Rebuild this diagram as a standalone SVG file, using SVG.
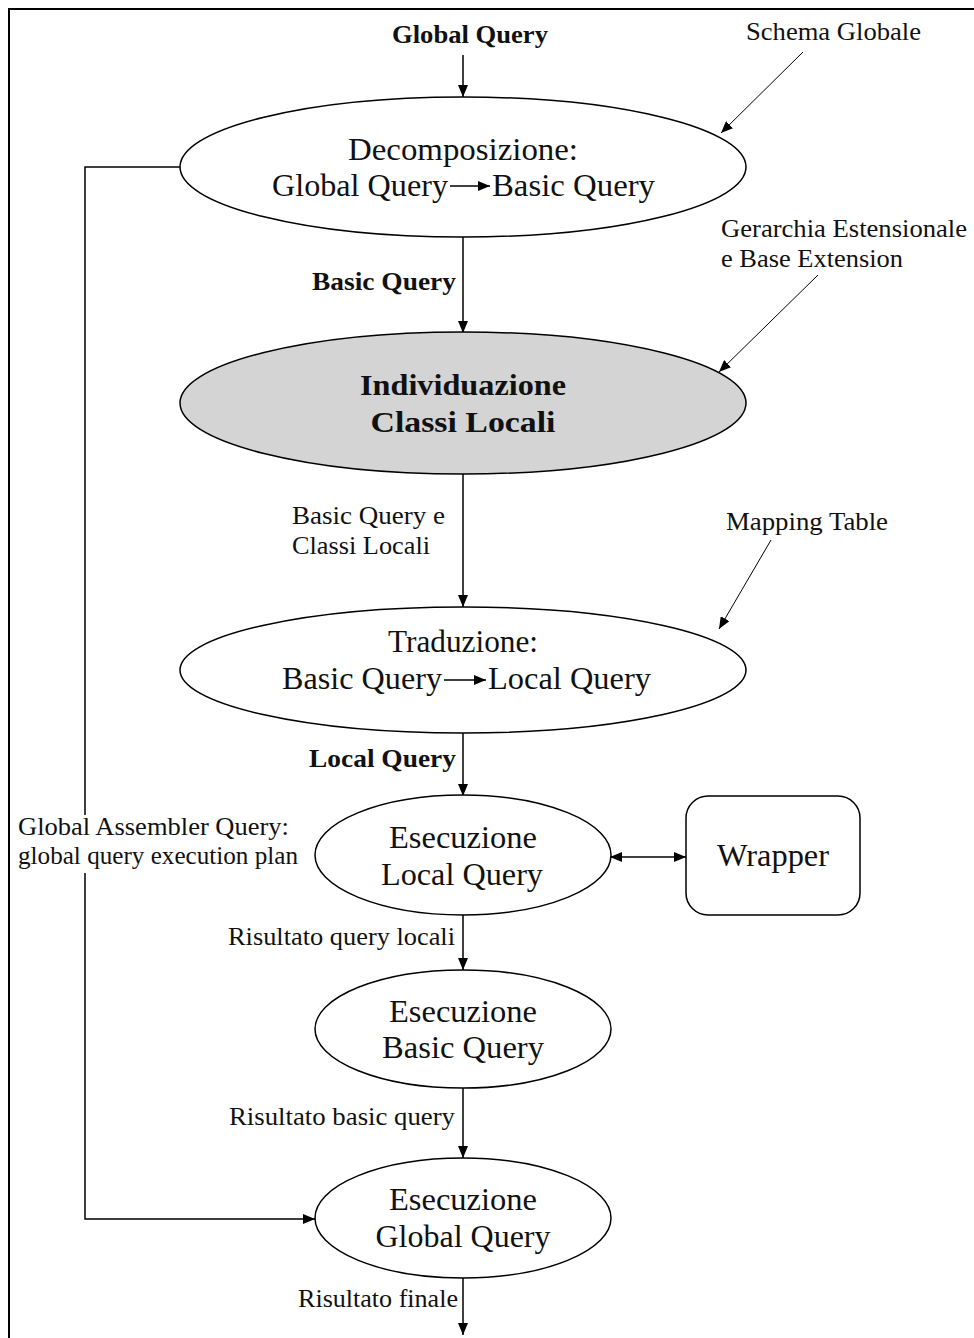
<svg xmlns="http://www.w3.org/2000/svg" width="974" height="1338" viewBox="0 0 974 1338">
<defs>
<marker id="ah" viewBox="0 0 12 10" refX="12" refY="5" markerWidth="12" markerHeight="10" markerUnits="userSpaceOnUse" orient="auto-start-reverse">
<path d="M0,0 L12,5 L0,10 z" fill="#000"/>
</marker>
</defs>
<style>
.n{fill:#fff;stroke:#000;stroke-width:1.5}
.g{fill:#d4d4d4;stroke:#000;stroke-width:1.5}
.t{font-family:"Liberation Serif","Times New Roman",serif;font-size:31px;fill:#111;text-anchor:middle}
.tb{font-family:"Liberation Serif","Times New Roman",serif;font-size:29px;font-weight:bold;fill:#111;text-anchor:middle}
.l{font-family:"Liberation Serif","Times New Roman",serif;font-size:26px;fill:#111}
.lb{font-family:"Liberation Serif","Times New Roman",serif;font-size:25px;font-weight:bold;fill:#111}
.c{fill:none;stroke:#000;stroke-width:1.5}
.s{fill:none;stroke:#000;stroke-width:1}
</style>
<rect x="0" y="0" width="974" height="1338" fill="#fff"/>
<path d="M9,1338 V9 H974" fill="none" stroke="#000" stroke-width="2"/>

<g id="connectors">
<line class="c" x1="463" y1="55" x2="463" y2="97" marker-end="url(#ah)"/>
<line class="s" x1="803" y1="52" x2="721" y2="133" marker-end="url(#ah)"/>
<line class="c" x1="463" y1="237" x2="463" y2="333" marker-end="url(#ah)"/>
<line class="s" x1="818" y1="275" x2="719" y2="372" marker-end="url(#ah)"/>
<line class="c" x1="463" y1="474" x2="463" y2="607" marker-end="url(#ah)"/>
<line class="s" x1="771" y1="540" x2="719" y2="629" marker-end="url(#ah)"/>
<line class="c" x1="463" y1="732" x2="463" y2="796" marker-end="url(#ah)"/>
<line class="c" x1="610" y1="857" x2="686" y2="857" marker-start="url(#ah)" marker-end="url(#ah)"/>
<line class="c" x1="463" y1="915" x2="463" y2="970" marker-end="url(#ah)"/>
<line class="c" x1="463" y1="1088" x2="463" y2="1158" marker-end="url(#ah)"/>
<line class="c" x1="463" y1="1277" x2="463" y2="1335" marker-end="url(#ah)"/>
<path class="c" d="M180,167 H85 V1219 H315" marker-end="url(#ah)"/>
</g>

<g id="labels">
<text class="lb" x="392" y="43" textLength="156" lengthAdjust="spacingAndGlyphs">Global Query</text>
<text class="l" x="746" y="40" textLength="175" lengthAdjust="spacingAndGlyphs">Schema Globale</text>
<text class="lb" x="312" y="290" textLength="144" lengthAdjust="spacingAndGlyphs">Basic Query</text>
<text class="l" x="721" y="237" textLength="246" lengthAdjust="spacingAndGlyphs">Gerarchia Estensionale</text>
<text class="l" x="721" y="267" textLength="182" lengthAdjust="spacingAndGlyphs">e Base Extension</text>
<text class="l" x="292" y="524" textLength="153" lengthAdjust="spacingAndGlyphs">Basic Query e</text>
<text class="l" x="292" y="554" textLength="138" lengthAdjust="spacingAndGlyphs">Classi Locali</text>
<text class="l" x="726" y="530" textLength="162" lengthAdjust="spacingAndGlyphs">Mapping Table</text>
<text class="lb" x="309" y="767" textLength="147" lengthAdjust="spacingAndGlyphs">Local Query</text>
<rect x="14" y="815" width="288" height="58" fill="#fff"/>
<text class="l" x="18" y="835" textLength="271" lengthAdjust="spacingAndGlyphs">Global Assembler Query:</text>
<text class="l" x="18" y="864" textLength="280" lengthAdjust="spacingAndGlyphs">global query execution plan</text>
<text class="l" x="228" y="945" textLength="227" lengthAdjust="spacingAndGlyphs">Risultato query locali</text>
<text class="l" x="229" y="1125" textLength="226" lengthAdjust="spacingAndGlyphs">Risultato basic query</text>
<text class="l" x="298" y="1307" textLength="160" lengthAdjust="spacingAndGlyphs">Risultato finale</text>
</g>

<g id="decomposizione">
<ellipse class="n" cx="463" cy="167" rx="283" ry="70"/>
<text class="t" x="463" y="160" textLength="230" lengthAdjust="spacingAndGlyphs">Decomposizione:</text>
<text class="t" x="272" y="196" style="text-anchor:start" textLength="176" lengthAdjust="spacingAndGlyphs">Global Query</text>
<line class="c" x1="450" y1="186" x2="490" y2="186" marker-end="url(#ah)"/>
<text class="t" x="492" y="196" style="text-anchor:start" textLength="163" lengthAdjust="spacingAndGlyphs">Basic Query</text>
</g>

<g id="individuazione">
<ellipse class="g" cx="463" cy="403" rx="283" ry="71"/>
<text class="tb" x="463" y="395" textLength="206" lengthAdjust="spacingAndGlyphs">Individuazione</text>
<text class="tb" x="463" y="432" textLength="185" lengthAdjust="spacingAndGlyphs">Classi Locali</text>
</g>

<g id="traduzione">
<ellipse class="n" cx="463" cy="670" rx="283" ry="63"/>
<text class="t" x="463" y="652" textLength="150" lengthAdjust="spacingAndGlyphs">Traduzione:</text>
<text class="t" x="282" y="689" style="text-anchor:start" textLength="160" lengthAdjust="spacingAndGlyphs">Basic Query</text>
<line class="c" x1="444" y1="680" x2="486" y2="680" marker-end="url(#ah)"/>
<text class="t" x="488" y="689" style="text-anchor:start" textLength="163" lengthAdjust="spacingAndGlyphs">Local Query</text>
</g>

<g id="esecuzione-local">
<ellipse class="n" cx="463" cy="855" rx="148" ry="60"/>
<text class="t" x="463" y="848" textLength="148" lengthAdjust="spacingAndGlyphs">Esecuzione</text>
<text class="t" x="462" y="885" textLength="162" lengthAdjust="spacingAndGlyphs">Local Query</text>
</g>

<g id="wrapper">
<rect class="n" x="686" y="796" width="174" height="119" rx="22"/>
<text class="t" x="773" y="866" textLength="112" lengthAdjust="spacingAndGlyphs">Wrapper</text>
</g>

<g id="esecuzione-basic">
<ellipse class="n" cx="463" cy="1029" rx="148" ry="59"/>
<text class="t" x="463" y="1022" textLength="148" lengthAdjust="spacingAndGlyphs">Esecuzione</text>
<text class="t" x="463" y="1058" textLength="162" lengthAdjust="spacingAndGlyphs">Basic Query</text>
</g>

<g id="esecuzione-global">
<ellipse class="n" cx="463" cy="1218" rx="148" ry="60"/>
<text class="t" x="463" y="1210" textLength="148" lengthAdjust="spacingAndGlyphs">Esecuzione</text>
<text class="t" x="463" y="1247" textLength="175" lengthAdjust="spacingAndGlyphs">Global Query</text>
</g>
</svg>
